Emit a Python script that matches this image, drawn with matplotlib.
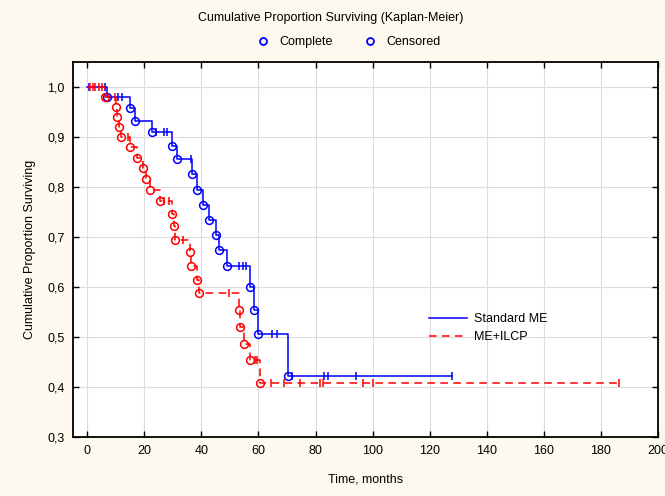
import matplotlib
matplotlib.use('Agg')
import matplotlib.pyplot as plt
import numpy as np
from matplotlib.lines import Line2D
from matplotlib.ticker import FuncFormatter

plt.rcParams['font.family'] = ['Liberation Sans', 'DejaVu Sans']

# Standard ME: event times, survival after each event, censored times
std_event_t = [6.8, 15.1, 16.8, 22.5, 29.8, 31.4, 36.6, 38.6, 40.7, 42.8, 45.0,
               46.2, 48.9, 57.0, 58.3, 60.0, 70.2]
std_event_s = [0.980, 0.957, 0.931, 0.909, 0.882, 0.855, 0.825, 0.794, 0.764,
               0.734, 0.703, 0.673, 0.642, 0.599, 0.554, 0.506, 0.421]
std_cens_t = [0.4, 6.2, 10.9, 12.1, 24.2, 26.7, 27.9, 36.2, 53.3, 54.5, 55.7,
              64.7, 66.6, 71.7, 83.0, 84.3, 94.1, 128.0]

# ME+ILCP
ilcp_event_t = [6.3, 10.0, 10.4, 11.1, 11.9, 14.9, 17.5, 19.4, 20.4, 22.1, 25.4,
                29.7, 30.2, 30.6, 36.1, 36.4, 38.6, 39.3, 53.3, 53.5, 54.8, 57.1, 60.4]
ilcp_event_s = [0.980, 0.959, 0.939, 0.919, 0.900, 0.879, 0.857, 0.837, 0.816,
                0.793, 0.771, 0.745, 0.721, 0.694, 0.669, 0.642, 0.614, 0.587,
                0.554, 0.520, 0.486, 0.454, 0.408]
ilcp_cens_t = [1.0, 1.8, 2.8, 4.0, 5.1, 9.6, 14.4, 27.0, 28.6, 33.5, 49.5,
               58.8, 59.6, 64.3, 68.8, 74.4, 81.6, 82.5, 96.8, 100.3, 186.4]

x_ticks = [0, 20, 40, 60, 80, 100, 120, 140, 160, 180, 200]
y_ticks = [0.3, 0.4, 0.5, 0.6, 0.7, 0.8, 0.9, 1.0]


def km_level(ev_t, ev_s, t):
    s = 1.0
    for et, es in zip(ev_t, ev_s):
        if et <= t:
            s = es
    return s


def draw(ax, ev_t, ev_s, cens_t, color, ls, dashes=None):
    end = max(max(cens_t), max(ev_t))
    xs = [0] + list(ev_t) + [end]
    ys = [1.0] + list(ev_s) + [ev_s[-1]]
    line, = ax.step(xs, ys, where='post', color=color, lw=1.1, ls=ls)
    if dashes:
        line.set_dashes(dashes)
    ax.plot(ev_t, ev_s, 'o', ms=5.6, mfc='none', mec=color, mew=1.1)
    cs = [km_level(ev_t, ev_s, t) for t in cens_t]
    ax.plot(cens_t, cs, '|', ms=6, mec=color, mew=1.1)
    return line


fig = plt.figure(figsize=(6.65, 4.96), dpi=100, facecolor='#fdf9ef')
ax = fig.add_axes([0.11, 0.119, 0.879, 0.756])
ax.set_facecolor('white')

l1 = draw(ax, std_event_t, std_event_s, std_cens_t, '#0000ff', '-')
l2 = draw(ax, ilcp_event_t, ilcp_event_s, ilcp_cens_t, '#ff0000', '--', (5, 3.5))

ax.set_xlim(-5, 200)
ax.set_ylim(0.3, 1.05)
ax.set_xticks(x_ticks)
ax.set_yticks(y_ticks)
ax.yaxis.set_major_formatter(FuncFormatter(lambda v, p: f'{v:.1f}'.replace('.', ',')))
ax.grid(True, color='#dcdcdc', lw=0.8)
ax.set_axisbelow(True)
ax.tick_params(direction='in', length=4, width=1, top=True, right=True,
               labelsize=9, pad=6)
for sp in ax.spines.values():
    sp.set_linewidth(1.3)

ax.set_xlabel('Time, months', fontsize=9, labelpad=12)
ax.set_ylabel('Cumulative Proportion Surviving', fontsize=9, labelpad=8)

ax.legend([l1, l2], ['Standard ME', 'ME+ILCP'], loc='upper left',
          bbox_to_anchor=(0.59, 0.36), frameon=False, fontsize=9,
          handlelength=3, handletextpad=0.6, labelspacing=0.5)

fig.text(0.497, 0.963, 'Cumulative Proportion Surviving (Kaplan-Meier)',
         ha='center', va='center', fontsize=9)
mk = [Line2D([], [], ls='none', marker='o', ms=5, mfc='none', mec='#0000ff', mew=1.3)
      for _ in range(2)]
fig.legend(mk, ['Complete', 'Censored'], loc='center', bbox_to_anchor=(0.52, 0.915),
           ncol=2, frameon=False, fontsize=9, handletextpad=0.3, columnspacing=2.0)

fig.savefig('out.png', dpi=100, facecolor=fig.get_facecolor())
